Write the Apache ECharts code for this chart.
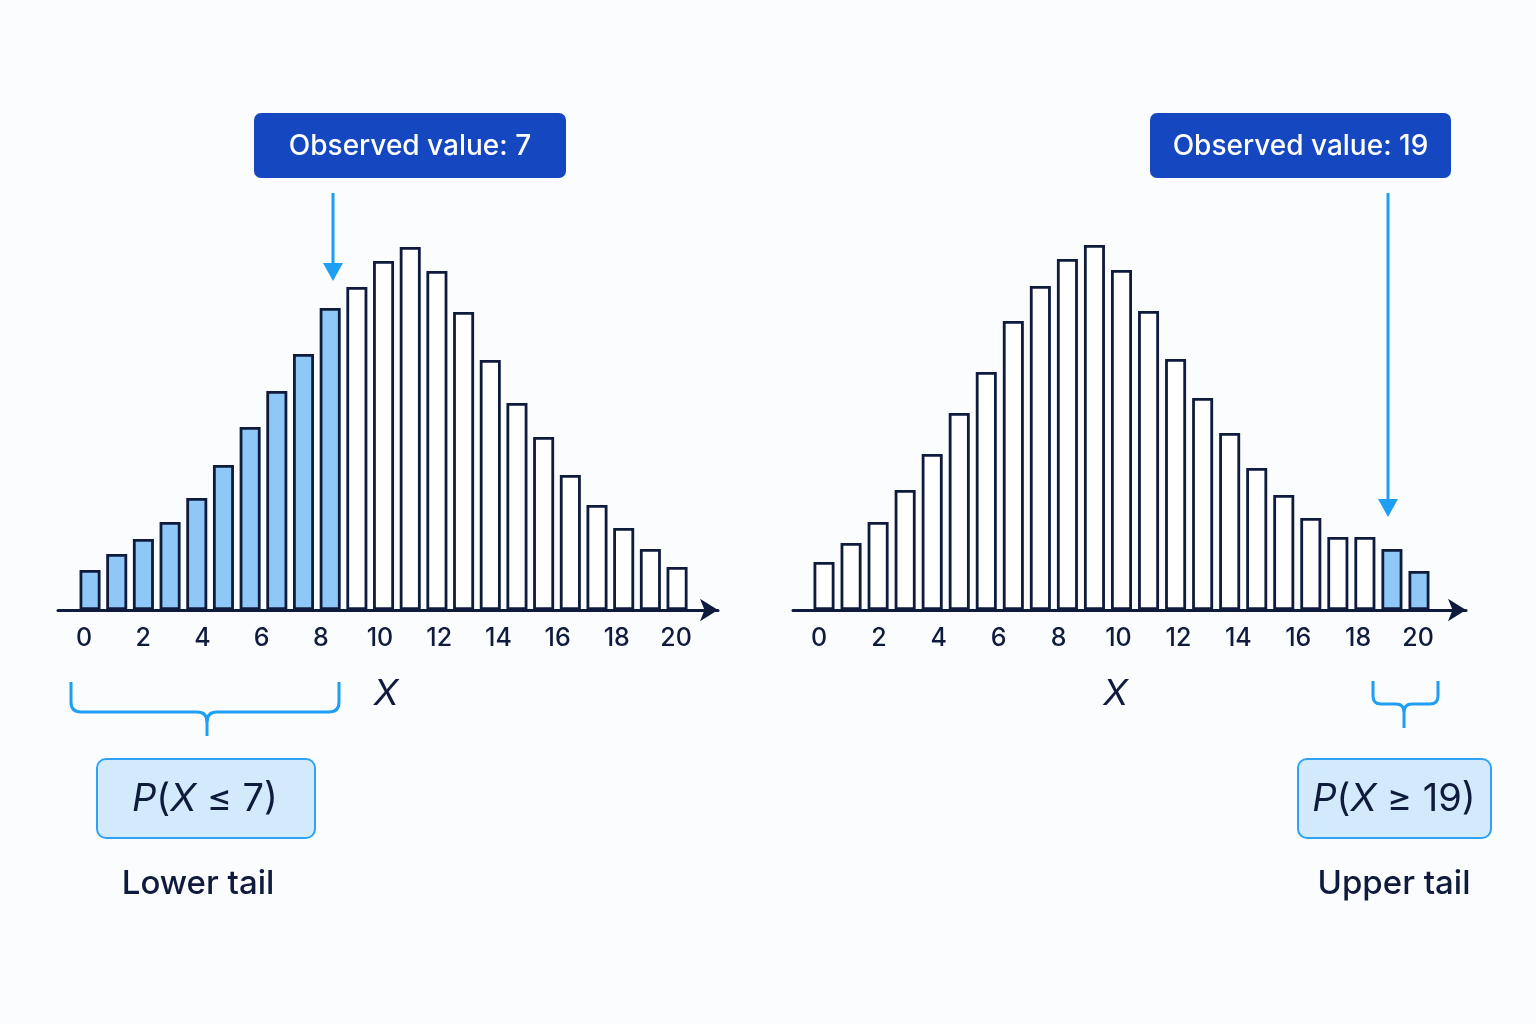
<!DOCTYPE html>
<html lang="en">
<head>
    <meta charset="UTF-8">
    <title>Lower and upper tail</title>
    <script type="text/javascript" src="https://cdn.jsdelivr.net/npm/echarts@6/dist/echarts.min.js"></script>
    <style>
        html, body { margin: 0; padding: 0; background: #fbfcfd; }
    </style>
</head>
<body>
<div id="main" style="width: 1536px;height:1024px;"></div>
<script>
    // bar heights (23 bars each side)
    var leftHeights = [40, 56, 71, 88, 112, 145, 183, 219, 256, 302, 323, 349, 363, 339, 298, 250, 207, 173, 135, 105, 82, 61, 43];
    var rightHeights = [48, 67, 88, 120, 156, 197, 238, 289, 324, 351, 365, 340, 299, 251, 212, 177, 142, 115, 92, 73, 73, 61, 39];
    // tick labels under each axis
    var tickLabels = [0, 2, 4, 6, 8, 10, 12, 14, 16, 18, 20];
    // how many bars are shaded in each tail
    var leftTailBars = 10;
    var rightTailBars = 2;
    // observed values
    var leftObserved = 7;
    var rightObserved = 19;

    var navy = '#0f1b3d';
    var tailBlue = '#8fc8f7';
    var skyBlue = '#1f9ff3';

    function barData(heights, isTail) {
        return heights.map(function (h, i) {
            return {value: h, itemStyle: {color: isTail(i) ? tailBlue : '#ffffff'}};
        });
    }
    var cats = leftHeights.map(function (h, i) { return String(i); });

    function labelAxis(grid, min, max, nameShift) {
        return {
            type: 'value', gridIndex: grid, min: min, max: max,
            axisLine: {show: true, symbol: ['none', 'arrow'], symbolSize: [17, 18],
                lineStyle: {color: navy, width: 3}},
            axisTick: {show: false},
            splitLine: {show: false},
            axisLabel: {customValues: tickLabels, color: navy, fontSize: 25, fontWeight: 500,
                fontFamily: 'Inter', margin: 16},
            name: 'X', nameLocation: 'middle', nameGap: 66,
            nameTextStyle: {fontStyle: 'italic', fontSize: 36, fontFamily: 'Inter', color: navy,
                padding: [0, nameShift, 0, 0]}
        };
    }

    // curly brace under a tail: straight pieces plus rounded corners
    function brace(xl, xr, xm, yTop, yBar, yEnd, r) {
        var st = {stroke: skyBlue, lineWidth: 3, fill: null};
        function ln(a, b, c, d) { return {type: 'line', shape: {x1: a, y1: b, x2: c, y2: d}, style: st}; }
        function cv(a, b, cx, cy, c, d) {
            return {type: 'bezierCurve', shape: {x1: a, y1: b, cpx1: cx, cpy1: cy, x2: c, y2: d}, style: st};
        }
        return [
            ln(xl, yTop, xl, yBar - r), cv(xl, yBar - r, xl, yBar, xl + r, yBar),
            ln(xl + r, yBar, xm - r, yBar), cv(xm - r, yBar, xm, yBar, xm, yBar + r),
            cv(xm, yBar + r, xm, yBar, xm + r, yBar), ln(xm, yBar + r, xm, yEnd),
            ln(xm + r, yBar, xr - r, yBar), cv(xr - r, yBar, xr, yBar, xr, yBar - r),
            ln(xr, yBar - r, xr, yTop)
        ];
    }

    function tailLabel(cx, text) {
        return {type: 'text', x: cx, y: 800, style: {
                text: text, align: 'center', verticalAlign: 'middle',
                rich: {
                    i: {fontStyle: 'italic', fontSize: 38, fontFamily: 'Inter', fill: navy},
                    n: {fontSize: 38, fontFamily: 'Inter', fill: navy}
                }}};
    }

    var graphics = [
        // observed value boxes
        {type: 'rect', shape: {x: 254, y: 113, width: 312, height: 65, r: 7}, style: {fill: '#1447c0'}},
        {type: 'text', x: 410, y: 147, style: {text: 'Observed value: ' + leftObserved, fill: '#ffffff',
                font: '500 28px Inter', align: 'center', verticalAlign: 'middle'}},
        {type: 'rect', shape: {x: 1150, y: 113, width: 301, height: 65, r: 7}, style: {fill: '#1447c0'}},
        {type: 'text', x: 1300.5, y: 147, style: {text: 'Observed value: ' + rightObserved, fill: '#ffffff',
                font: '500 28px Inter', align: 'center', verticalAlign: 'middle'}},
        // arrows
        {type: 'line', shape: {x1: 333, y1: 193, x2: 333, y2: 266}, style: {stroke: skyBlue, lineWidth: 3}},
        {type: 'polygon', shape: {points: [[323, 263], [343, 263], [333, 281]]}, style: {fill: skyBlue}},
        {type: 'line', shape: {x1: 1388, y1: 193, x2: 1388, y2: 502}, style: {stroke: skyBlue, lineWidth: 3}},
        {type: 'polygon', shape: {points: [[1378, 499], [1398, 499], [1388, 517]]}, style: {fill: skyBlue}},
        // tail boxes
        {type: 'rect', shape: {x: 97, y: 759, width: 218, height: 79, r: 9},
            style: {fill: '#d3e9fc', stroke: '#2ea3f5', lineWidth: 2}},
        tailLabel(205, '{i|P}{n|(}{i|X}{n| ≤ ' + leftObserved + ')}'),
        {type: 'rect', shape: {x: 1298, y: 759, width: 193, height: 79, r: 9},
            style: {fill: '#d3e9fc', stroke: '#2ea3f5', lineWidth: 2}},
        tailLabel(1394, '{i|P}{n|(}{i|X}{n| ≥ ' + rightObserved + ')}'),
        // tail names
        {type: 'text', x: 198, y: 884, style: {text: 'Lower tail', fill: navy, font: '500 33px Inter',
                align: 'center', verticalAlign: 'middle'}},
        {type: 'text', x: 1394, y: 884, style: {text: 'Upper tail', fill: navy, font: '500 33px Inter',
                align: 'center', verticalAlign: 'middle'}}
    ].concat(brace(71, 339, 207, 682, 712, 736, 10), brace(1373, 1438, 1404, 681, 704, 728, 8));

    var option = {
        backgroundColor: '#fbfcfd',
        animation: false,
        grid: [
            {left: 76.7, width: 613.7, top: 210, height: 400},
            {left: 58, width: 660, top: 210, height: 400},
            {left: 810.5, width: 622, top: 210, height: 400},
            {left: 793, width: 673, top: 210, height: 400}
        ],
        xAxis: [
            {type: 'category', gridIndex: 0, data: cats, show: false},
            labelAxis(1, -26 / 29.6, 20 + 42 / 29.6, 4),
            {type: 'category', gridIndex: 2, data: cats, show: false},
            labelAxis(3, -26 / 29.95, 20 + 48 / 29.95, 28)
        ],
        yAxis: [0, 1, 2, 3].map(function (g) {
            return {type: 'value', gridIndex: g, min: 0, max: 400, show: false};
        }),
        series: [
            {
                type: 'bar', xAxisIndex: 0, yAxisIndex: 0, barWidth: 21,
                itemStyle: {borderColor: navy, borderWidth: 2.8},
                data: barData(leftHeights, function (i) { return i < leftTailBars; })
            },
            {
                type: 'bar', xAxisIndex: 2, yAxisIndex: 2, barWidth: 21,
                itemStyle: {borderColor: navy, borderWidth: 2.8},
                data: barData(rightHeights, function (i) { return i >= rightHeights.length - rightTailBars; })
            }
        ],
        graphic: graphics
    };

    var myChart = echarts.init(document.getElementById('main'));
    myChart.setOption(option);
</script>
</body>
</html>
